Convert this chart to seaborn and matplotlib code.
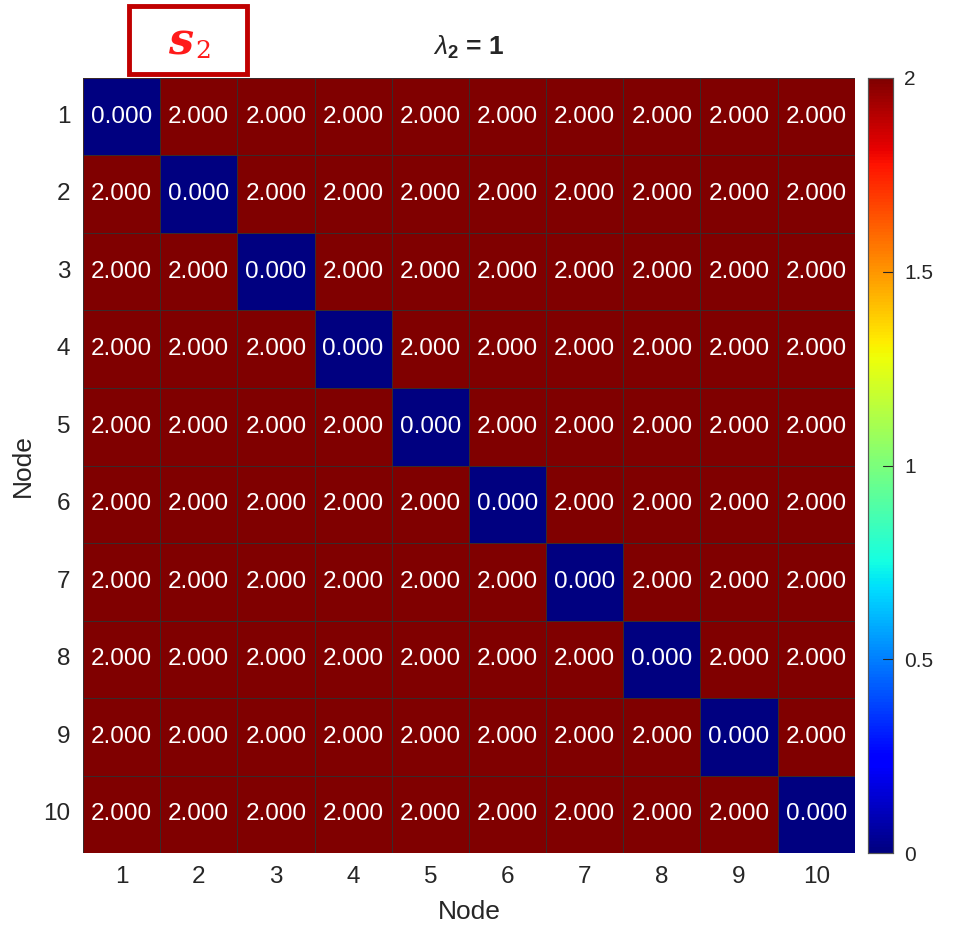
import numpy as np
import pandas as pd
import matplotlib
matplotlib.use("Agg")
import matplotlib.pyplot as plt
from matplotlib import font_manager
import seaborn as sns
from matplotlib.patches import Rectangle

sns.set_theme(style="white")

# register Liberation fonts explicitly so the Arial-like face is used
for f in font_manager.findSystemFonts():
    if "Liberation" in f:
        try:
            font_manager.fontManager.addfont(f)
        except Exception:
            pass
plt.rcParams['font.family'] = ['Liberation Sans', 'DejaVu Sans']
plt.rcParams['mathtext.fontset'] = 'custom'
plt.rcParams['mathtext.rm'] = 'Liberation Sans'
plt.rcParams['mathtext.it'] = 'Liberation Sans:italic'
plt.rcParams['mathtext.bf'] = 'Liberation Sans:bold'

nodes = [1, 2, 3, 4, 5, 6, 7, 8, 9, 10]
# pairwise values: 0 on the diagonal, 2 elsewhere
distance_rows = [
    [0, 2, 2, 2, 2, 2, 2, 2, 2, 2],
    [2, 0, 2, 2, 2, 2, 2, 2, 2, 2],
    [2, 2, 0, 2, 2, 2, 2, 2, 2, 2],
    [2, 2, 2, 0, 2, 2, 2, 2, 2, 2],
    [2, 2, 2, 2, 0, 2, 2, 2, 2, 2],
    [2, 2, 2, 2, 2, 0, 2, 2, 2, 2],
    [2, 2, 2, 2, 2, 2, 0, 2, 2, 2],
    [2, 2, 2, 2, 2, 2, 2, 0, 2, 2],
    [2, 2, 2, 2, 2, 2, 2, 2, 0, 2],
    [2, 2, 2, 2, 2, 2, 2, 2, 2, 0],
]
cbar_ticks = [0, 0.5, 1, 1.5, 2]
cbar_labels = ["0", "0.5", "1", "1.5", "2"]

df = pd.DataFrame(distance_rows, index=nodes, columns=nodes, dtype=float)

fig = plt.figure(figsize=(9.54, 9.26), dpi=100)
ax = fig.add_axes([0.087, 0.0788, 0.809, 0.837])
cax = fig.add_axes([0.910, 0.0788, 0.026, 0.837])

txt = "#262626"
sns.heatmap(df, ax=ax, cbar_ax=cax, cmap="jet", vmin=0, vmax=2,
            annot=True, fmt=".3f",
            annot_kws={"color": "white", "fontsize": 17.5},
            linewidths=0.6, linecolor="#3a2a2a", square=False)

ax.set_xlabel("Node", fontsize=19, color=txt, labelpad=9)
ax.set_ylabel("Node", fontsize=19, color=txt, labelpad=6)
ax.tick_params(axis="both", labelsize=17.5, colors=txt, length=0, pad=9)
ax.set_yticklabels(nodes, rotation=0)
ax.set_xticklabels(nodes, rotation=0)
ax.set_title(r"$\lambda_{\mathbf{2}}$ = 1", fontsize=19, fontweight="bold",
             color=txt, pad=17)

cax.set_yticks(cbar_ticks)
cax.set_yticklabels(cbar_labels)
cax.tick_params(labelsize=15, colors=txt, length=0, pad=8)
for v in cbar_ticks[1:-1]:
    cax.plot([0.6, 1.0], [v, v], color=txt, lw=0.8, transform=cax.get_yaxis_transform())
for s in cax.spines.values():
    s.set_visible(True)
    s.set_color("#555555")
    s.set_linewidth(0.8)

# labelled box in the top-left corner
box = Rectangle((129 / 954, 1 - 74 / 926), 118 / 954, 68 / 926,
                transform=fig.transFigure, fill=False,
                edgecolor="#c00000", linewidth=3.5)
fig.add_artist(box)
fig.text(181 / 954, 1 - 42 / 926, "s", color="#ff1a1a", fontsize=32,
         family="DejaVu Serif", fontstyle="italic", fontweight="bold",
         ha="center", va="center")
fig.text(203 / 954, 1 - 52 / 926, "2", color="#ff1a1a", fontsize=18,
         family="DejaVu Serif", ha="center", va="center")

fig.savefig("out.png", dpi=100)
